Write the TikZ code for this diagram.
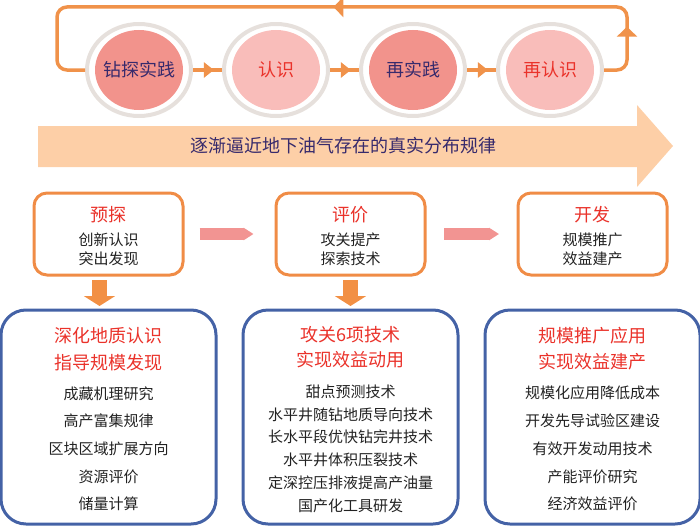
\documentclass[tikz,border=0pt]{standalone}
\usepackage{fontspec}
\setmainfont{Noto Sans CJK SC}
\usetikzlibrary{positioning, shapes.geometric, arrows.meta, decorations.markings}
\definecolor{looporange}{RGB}{240,146,74}
\definecolor{ringgray}{RGB}{230,224,220}
\definecolor{deeppink}{RGB}{242,147,140}
\definecolor{palepink}{RGB}{249,189,186}
\definecolor{inknavy}{RGB}{55,42,108}
\definecolor{inkred}{RGB}{234,50,42}
\definecolor{trendfill}{RGB}{253,207,167}
\definecolor{boxorange}{RGB}{240,140,70}
\definecolor{steppink}{RGB}{242,148,146}
\definecolor{downorange}{RGB}{242,144,68}
\definecolor{boxblue}{RGB}{68,98,166}
\definecolor{inkgray}{RGB}{34,34,34}
\newcommand{\phasetitle}[1]{{\fontsize{18}{18}\selectfont\color{inkred}\rule{0pt}{20pt}#1}}
\tikzset{
    x=1pt, y=-1pt, % one unit is one pixel, y grows downwards
    loophead/.tip={Triangle[length=10pt,width=20pt]}, % heads on the feedback loop
    stage/.style={ellipse, draw=ringgray, line width=4pt, minimum width=104pt, minimum height=92pt, inner sep=0pt,
        font=\fontsize{18}{18}\selectfont,
        path picture={\fill[#1] (path picture bounding box.center) ellipse [x radius=44pt, y radius=40pt];}},
    darkstage/.style={stage=deeppink, text=inknavy}, % practice steps
    lightstage/.style={stage=palepink, text=inkred}, % knowledge steps
    node distance=137pt, % distance between the stage circles
    loopline/.style={draw=looporange, line width=3.5pt, rounded corners=10pt},
    stagelink/.style={draw=looporange, line width=4pt, postaction={decorate},
        decoration={markings, mark=at position 0.72 with {\arrow[color=looporange]{Triangle[length=10pt,width=15pt]}}}},
    trendtext/.style={text=inknavy, font=\fontsize{18}{18}\selectfont},
    phasebox/.style={draw=boxorange, line width=3pt, rounded corners=13pt, fill=white, minimum width=149pt,
        minimum height=82pt, align=center, text=inkgray, font=\fontsize{15}{19}\selectfont},
    taskbox/.style={draw=boxblue, line width=3pt, rounded corners=25pt, minimum width=215pt, minimum height=214pt,
        align=center, text=inkgray, font=\fontsize{15}{27.7}\selectfont},
    steparrow/.style={draw=steppink, line width=12pt, -{Triangle[length=10pt,width=12pt]}},
    downarrow/.style={draw=downorange, line width=15pt, -{Triangle[length=10pt,width=31pt]}},
}
\begin{document}
\begin{tikzpicture}
    \useasboundingbox (0,0) rectangle (700,527);
    % cycle of practice and knowledge
    \node[darkstage] (c1) at (139,70) {钻探实践};
    \node[lightstage, right of=c1] (c2) {认识};
    \node[darkstage, right of=c2] (c3) {再实践};
    \node[lightstage, right of=c3] (c4) {再认识};
    \coordinate (tr) at (627,7);
    \coordinate (tl) at (57,7);
    \draw[loopline, postaction={decorate}, decoration={markings,
        mark=at position 62pt with {\arrow[color=looporange]{loophead}},
        mark=at position 371pt with {\arrow[color=looporange]{loophead}}}]
        (c4) -| (tr) -- (tl) |- (c1);
    \draw[stagelink] (c1) -- (c2);
    \draw[stagelink] (c2) -- (c3);
    \draw[stagelink] (c3) -- (c4);
    % the big trend arrow
    \fill[trendfill] (38,126) -- (637,126) -- (637,105) -- (673,146) -- (637,187) -- (637,167) -- (38,167) -- cycle;
    \node[trendtext] (trend) at (343,146) {逐渐逼近地下油气存在的真实分布规律};
    % phases
    \node[phasebox] (m1) at (108.5,234) {\phasetitle{预探}\\[5pt] 创新认识\\ 突出发现};
    \node[phasebox, right of=m1, node distance=242pt] (m2) {\phasetitle{评价}\\[5pt] 攻关提产\\ 探索技术};
    \node[phasebox, right of=m2, node distance=242pt] (m3) {\phasetitle{开发}\\[5pt] 规模推广\\ 效益建产};
    \draw[steparrow] ([xshift=15pt]m1.east) -- ([xshift=-21pt]m2.west);
    \draw[steparrow] ([xshift=17.5pt]m2.east) -- ([xshift=-17.5pt]m3.west);
    % tasks of each phase
    \node[taskbox, below of=m1, node distance=183pt] (b1) {\phasetitle{深化地质认识}\\[-1.7pt] \phasetitle{指导规模发现}\\[2.3pt]
        成藏机理研究\\ 高产富集规律\\ 区块区域扩展方向\\ 资源评价\\ 储量计算};
    \node[taskbox, below of=m2, node distance=183pt, font=\fontsize{15}{22.8}\selectfont] (b2) {\phasetitle{攻关6项技术}\\[2.2pt]
        \phasetitle{实现效益动用}\\[8pt] 甜点预测技术\\ 水平井随钻地质导向技术\\ 长水平段优快钻完井技术\\
        水平井体积压裂技术\\ 定深控压排液提高产油量\\ 国产化工具研发};
    \node[taskbox, below of=m3, node distance=183pt] (b3) {\phasetitle{规模推广应用}\\[-1.7pt] \phasetitle{实现效益建产}\\[2.3pt]
        规模化应用降低成本\\ 开发先导试验区建设\\ 有效开发动用技术\\ 产能评价研究\\ 经济效益评价};
    \draw[downarrow] ([xshift=-9pt,yshift=-3.5pt]m1.south) -- ([xshift=-9pt,yshift=2.5pt]b1.north);
    \draw[downarrow] ([yshift=-3.5pt]m2.south) -- ([yshift=2.5pt]b2.north);
\end{tikzpicture}
\end{document}
